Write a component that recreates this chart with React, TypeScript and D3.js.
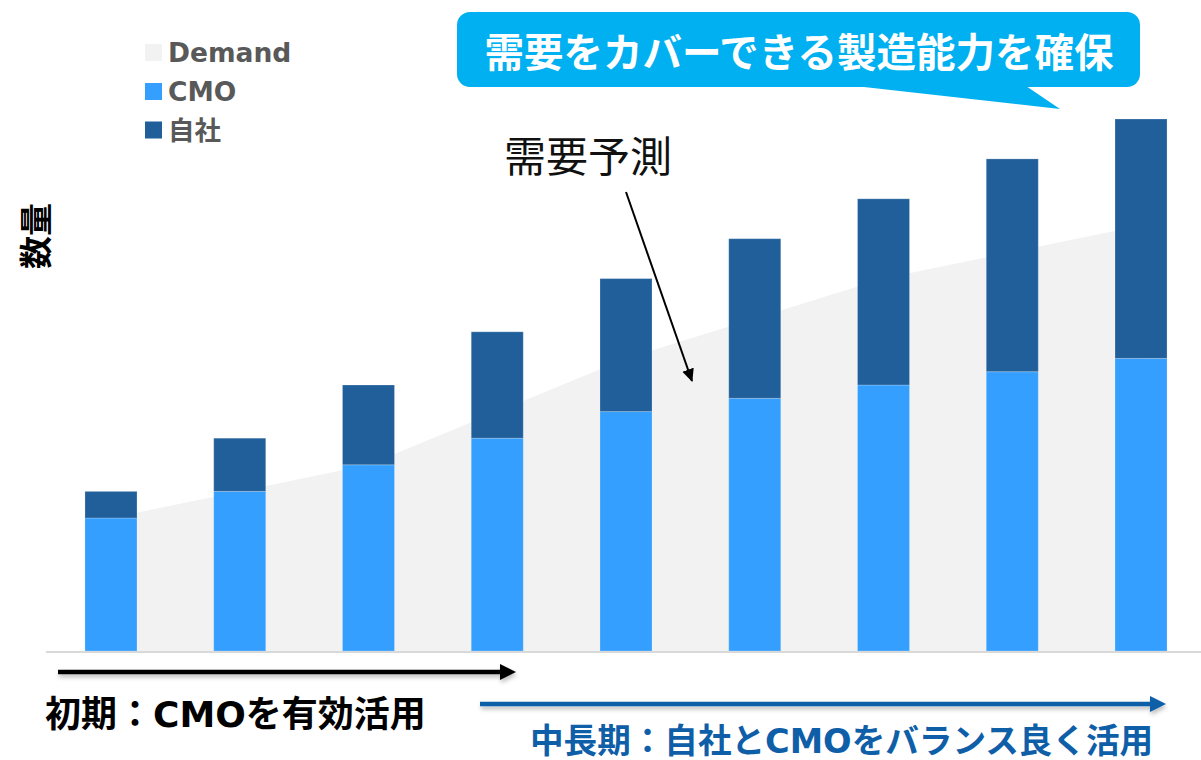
import React from "react";
import * as d3 from "d3";

const categories = ["P1", "P2", "P3", "P4", "P5", "P6", "P7", "P8", "P9"];
const cmoValues = [5, 6, 7, 8, 9, 9.5, 10, 10.5, 11];
const ownValues = [1, 2, 3, 4, 5, 6, 7, 8, 9];
const demandValues = [5, 6, 7, 9, 11, 12.5, 14, 15, 16];
const legendLabels = ["Demand", "CMO", "自社"];

const W = 1201;
const H = 760;
const COL_DEMAND = "#F2F2F2";
const COL_CMO = "#349FFE";
const COL_OWN = "#215F9A";
const MIX = "'DejaVu Sans', 'Noto Sans CJK JP', sans-serif";
const JP = "'Noto Sans CJK JP', sans-serif";

export default function App() {
  const x = d3
    .scaleBand<string>()
    .domain(categories)
    .range([46.6, 1205.4])
    .paddingInner(0.596)
    .paddingOuter(0.298);
  const y = d3.scaleLinear().domain([0, 20]).range([651, 119]);

  const rows = categories.map((c, i) => ({ cat: c, cmo: cmoValues[i], own: ownValues[i] }));
  const stack = d3.stack<any>().keys(["cmo", "own"])(rows);

  const area = d3
    .area<number>()
    .x((_, i) => (x(categories[i]) as number) + x.bandwidth() / 2)
    .y0(y(0))
    .y1((d) => y(d));

  const legendColors = [COL_DEMAND, COL_CMO, COL_OWN];
  const legendY = [52.5, 91.5, 130];

  return (
    <svg
      width={W}
      height={H}
      style={{ position: "absolute", left: 0, top: 0, display: "block", background: "#fff" }}
    >
      <defs>
        <marker id="ahThin" markerUnits="userSpaceOnUse" markerWidth="14" markerHeight="14" refX="12" refY="6" orient="auto">
          <path d="M0,0 L13,6 L0,12 Z" fill="#000" />
        </marker>
        <filter id="shadow" filterUnits="userSpaceOnUse" x="0" y="0" width={W} height={H}>
          <feDropShadow dx="1" dy="3" stdDeviation="2" floodColor="#000" floodOpacity="0.25" />
        </filter>
      </defs>

      {/* demand area */}
      <path d={area(demandValues) as string} fill={COL_DEMAND} />

      {/* stacked bars */}
      {stack.map((layer, li) => (
        <g key={layer.key} fill={li === 0 ? COL_CMO : COL_OWN}>
          {layer.map((d, i) => (
            <rect
              key={i}
              x={x(categories[i])}
              y={y(d[1])}
              width={x.bandwidth()}
              height={y(d[0]) - y(d[1])}
              stroke="rgba(255,255,255,0.22)"
              strokeWidth={1}
            />
          ))}
        </g>
      ))}

      {/* baseline */}
      <line x1={46} x2={1201} y1={y(0) + 1} y2={y(0) + 1} stroke="#D9D9D9" strokeWidth={2} />

      {/* legend */}
      {legendLabels.map((l, i) => (
        <g key={l}>
          <rect x={145} y={legendY[i] - 8.5} width={17} height={17} fill={legendColors[i]} />
          <text
            x={168}
            y={legendY[i]}
            dominantBaseline="central"
            fontFamily={MIX}
            fontWeight="bold"
            fontSize={26.5}
            fill="#595959"
          >
            {l}
          </text>
        </g>
      ))}

      {/* y label */}
      <text
        transform="translate(34,236) rotate(-90)"
        textAnchor="middle"
        dominantBaseline="central"
        fontFamily={JP}
        fontWeight="bold"
        fontSize={33}
        fill="#000"
      >
        数量
      </text>

      {/* callout */}
      <g>
        <rect x={457} y={12} width={683} height={75} rx={13} ry={13} fill="#00B0F0" />
        <path d="M855,86 L1026,86 L1060,109 Z" fill="#00B0F0" />
        <text
          x={799}
          y={67}
          textAnchor="middle"
          fontFamily={JP}
          fontWeight="bold"
          fontSize={39.5}
          fill="#fff"
        >
          需要をカバーできる製造能力を確保
        </text>
      </g>

      {/* demand forecast annotation */}
      <text x={588} y={172} textAnchor="middle" fontFamily={JP} fontSize={42} fill="#111">
        需要予測
      </text>
      <line x1={626} y1={192} x2={692} y2={381} stroke="#000" strokeWidth={2} markerEnd="url(#ahThin)" />

      {/* bottom arrows */}
      <g filter="url(#shadow)">
        <line x1={58} y1={672} x2={502} y2={672} stroke="#000" strokeWidth={4.5} />
        <path d="M500,664 L516,672 L500,680 Z" fill="#000" />
        <line x1={480} y1={704} x2={1152} y2={704} stroke="#0F5EA8" strokeWidth={4.5} />
        <path d="M1150,696 L1166,704 L1150,712 Z" fill="#0F5EA8" />
      </g>
      <text x={45} y={727} fontFamily={MIX} fontWeight="bold" fontSize={36} fill="#000">
        初期：CMOを有効活用
      </text>
      <text x={530} y={753} fontFamily={MIX} fontWeight="bold" fontSize={33.6} fill="#0F5EA8">
        中長期：自社とCMOをバランス良く活用
      </text>
    </svg>
  );
}
